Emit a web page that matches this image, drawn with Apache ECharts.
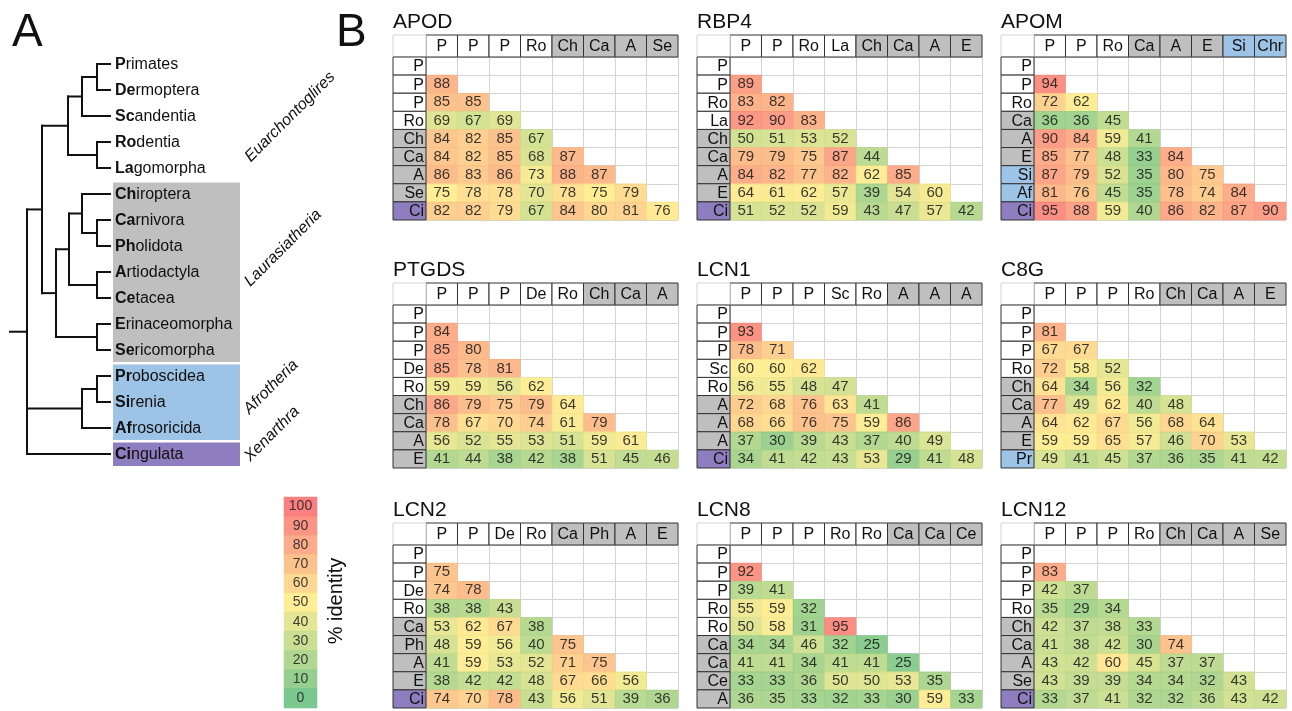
<!DOCTYPE html>
<html>
<head>
<meta charset="utf-8">
<script src="https://cdn.jsdelivr.net/npm/echarts@6.0.0/dist/echarts.min.js"></script>
<style>
	html, body { margin: 0; padding: 0; background: #fff; }
	#chart { width: 1292px; height: 711px; }
</style>
</head>
<body>
<div id="chart"></div>
<script>
var FONT = '"Liberation Sans", Arial, Helvetica, sans-serif';

// ---- panel A: tree ----
var leafNames = ['Primates', 'Dermoptera', 'Scandentia', 'Rodentia', 'Lagomorpha', 'Chiroptera', 'Carnivora',
	'Pholidota', 'Artiodactyla', 'Cetacea', 'Erinaceomorpha', 'Sericomorpha', 'Proboscidea', 'Sirenia',
	'Afrosoricida', 'Cingulata'];
var leafBold = ['P', 'De', 'Sc', 'Ro', 'La', 'Ch', 'Ca', 'Ph', 'A', 'Ce', 'E', 'Se', 'Pr', 'Si', 'Af', 'Ci'];
var leafGroup = ['E', 'E', 'E', 'E', 'E', 'L', 'L', 'L', 'L', 'L', 'L', 'L', 'F', 'F', 'F', 'X'];
// node = [x, child, child, ...]; a number child is a leaf index
var tree = [27,
	[42,
		[68, [82, [97, 0, 1], 2], [97, 3, 4]],
		[56, [69, [82, 5, [97, 6, 7]], [97, 8, 9]], [97, 10, 11]]
	],
	[82, [97, 12, 13], 14],
	15
];
var cladeNames = ['Euarchontoglires', 'Laurasiatheria', 'Afrotheria', 'Xenarthra'];

// ---- panel B: identity tables ----
var genes = ['APOD', 'RBP4', 'APOM', 'PTGDS', 'LCN1', 'C8G', 'LCN2', 'LCN8', 'LCN12'];

var APOD_cols = ['P', 'P', 'P', 'Ro', 'Ch', 'Ca', 'A', 'Se'];
var APOD_rows = ['P', 'P', 'P', 'Ro', 'Ch', 'Ca', 'A', 'Se', 'Ci'];
var APOD_vals = [[88], [85, 85], [69, 67, 69], [84, 82, 85, 67], [84, 82, 85, 68, 87],
	[86, 83, 86, 73, 88, 87], [75, 78, 78, 70, 78, 75, 79], [82, 82, 79, 67, 84, 80, 81, 76]];

var RBP4_cols = ['P', 'P', 'Ro', 'La', 'Ch', 'Ca', 'A', 'E'];
var RBP4_rows = ['P', 'P', 'Ro', 'La', 'Ch', 'Ca', 'A', 'E', 'Ci'];
var RBP4_vals = [[89], [83, 82], [92, 90, 83], [50, 51, 53, 52], [79, 79, 75, 87, 44],
	[84, 82, 77, 82, 62, 85], [64, 61, 62, 57, 39, 54, 60], [51, 52, 52, 59, 43, 47, 57, 42]];

var APOM_cols = ['P', 'P', 'Ro', 'Ca', 'A', 'E', 'Si', 'Chr'];
var APOM_rows = ['P', 'P', 'Ro', 'Ca', 'A', 'E', 'Si', 'Af', 'Ci'];
var APOM_vals = [[94], [72, 62], [36, 36, 45], [90, 84, 59, 41], [85, 77, 48, 33, 84],
	[87, 79, 52, 35, 80, 75], [81, 76, 45, 35, 78, 74, 84], [95, 88, 59, 40, 86, 82, 87, 90]];

var PTGDS_cols = ['P', 'P', 'P', 'De', 'Ro', 'Ch', 'Ca', 'A'];
var PTGDS_rows = ['P', 'P', 'P', 'De', 'Ro', 'Ch', 'Ca', 'A', 'E'];
var PTGDS_vals = [[84], [85, 80], [85, 78, 81], [59, 59, 56, 62], [86, 79, 75, 79, 64],
	[78, 67, 70, 74, 61, 79], [56, 52, 55, 53, 51, 59, 61], [41, 44, 38, 42, 38, 51, 45, 46]];

var LCN1_cols = ['P', 'P', 'P', 'Sc', 'Ro', 'A', 'A', 'A'];
var LCN1_rows = ['P', 'P', 'P', 'Sc', 'Ro', 'A', 'A', 'A', 'Ci'];
var LCN1_vals = [[93], [78, 71], [60, 60, 62], [56, 55, 48, 47], [72, 68, 76, 63, 41],
	[68, 66, 76, 75, 59, 86], [37, 30, 39, 43, 37, 40, 49], [34, 41, 42, 43, 53, 29, 41, 48]];

var C8G_cols = ['P', 'P', 'P', 'Ro', 'Ch', 'Ca', 'A', 'E'];
var C8G_rows = ['P', 'P', 'P', 'Ro', 'Ch', 'Ca', 'A', 'E', 'Pr'];
var C8G_vals = [[81], [67, 67], [72, 58, 52], [64, 34, 56, 32], [77, 49, 62, 40, 48],
	[64, 62, 67, 56, 68, 64], [59, 59, 65, 57, 46, 70, 53], [49, 41, 45, 37, 36, 35, 41, 42]];

var LCN2_cols = ['P', 'P', 'De', 'Ro', 'Ca', 'Ph', 'A', 'E'];
var LCN2_rows = ['P', 'P', 'De', 'Ro', 'Ca', 'Ph', 'A', 'E', 'Ci'];
var LCN2_vals = [[75], [74, 78], [38, 38, 43], [53, 62, 67, 38], [48, 59, 56, 40, 75],
	[41, 59, 53, 52, 71, 75], [38, 42, 42, 48, 67, 66, 56], [74, 70, 78, 43, 56, 51, 39, 36]];

var LCN8_cols = ['P', 'P', 'P', 'Ro', 'Ro', 'Ca', 'Ca', 'Ce'];
var LCN8_rows = ['P', 'P', 'P', 'Ro', 'Ro', 'Ca', 'Ca', 'Ce', 'A'];
var LCN8_vals = [[92], [39, 41], [55, 59, 32], [50, 58, 31, 95], [34, 34, 46, 32, 25],
	[41, 41, 34, 41, 41, 25], [33, 33, 36, 50, 50, 53, 35], [36, 35, 33, 32, 33, 30, 59, 33]];

var LCN12_cols = ['P', 'P', 'P', 'Ro', 'Ch', 'Ca', 'A', 'Se'];
var LCN12_rows = ['P', 'P', 'P', 'Ro', 'Ch', 'Ca', 'A', 'Se', 'Ci'];
var LCN12_vals = [[83], [42, 37], [35, 29, 34], [42, 37, 38, 33], [41, 38, 42, 30, 74],
	[43, 42, 60, 45, 37, 37], [43, 39, 39, 34, 34, 32, 43], [33, 37, 41, 32, 32, 36, 43, 42]];

var legendTicks = [100, 90, 80, 70, 60, 50, 40, 30, 20, 10, 0];

var tableCols = [APOD_cols, RBP4_cols, APOM_cols, PTGDS_cols, LCN1_cols, C8G_cols, LCN2_cols, LCN8_cols, LCN12_cols];
var tableRows = [APOD_rows, RBP4_rows, APOM_rows, PTGDS_rows, LCN1_rows, C8G_rows, LCN2_rows, LCN8_rows, LCN12_rows];
var tableVals = [APOD_vals, RBP4_vals, APOM_vals, PTGDS_vals, LCN1_vals, C8G_vals, LCN2_vals, LCN8_vals, LCN12_vals];

// colour scale (per table lower end, green -> yellow -> red)
var scaleLo = [50, 25, 25, 25, 20, 20, 20, 20, 15];
var scaleColors = ['#63BE7B', '#FFEB84', '#F8696B'];

var taxonGroup = {P: 'E', De: 'E', Sc: 'E', Ro: 'E', La: 'E', Ch: 'L', Ca: 'L', Ph: 'L', A: 'L', Ce: 'L',
	E: 'L', Se: 'L', Si: 'F', Chr: 'F', Af: 'F', Pr: 'F', Ci: 'X'};
var groupFill = {E: '#ffffff', L: '#BFBFBF', F: '#9DC3E6', X: '#8F7EBF'};

// layout
var tableX = [393, 697, 1001];
var tableY = [35, 283, 523];
var LABEL_W = 33, HEAD_H = 22, DATA_W = 252, DATA_H = 163;
var TIP_X = 110, BOX_X0 = 113, BOX_X1 = 240;

var myChart = echarts.init(document.getElementById('chart'));

var option = {
	animation: false,
	title: [],
	grid: [],
	xAxis: [],
	yAxis: [],
	visualMap: [],
	series: [],
	graphic: []
};

function hiddenCat(n, gi, inverse) {
	var d = [];
	for (var i = 0; i < n; i++) d.push(String(i));
	return {
		type: 'category', gridIndex: gi, data: d, inverse: !!inverse,
		axisLine: {show: false}, axisTick: {show: false}, axisLabel: {show: false},
		splitLine: {show: true, interval: 0, lineStyle: {color: '#D4D4D4', width: 1}}
	};
}

function headerItem(labels) {
	return function(params, api) {
		var i = api.value(0);
		var c = api.coord([i, 0]);
		var s = api.size([1, 1]);
		var x = c[0] - s[0] / 2, y = c[1] - s[1] / 2 - HEAD_H;
		return {
			type: 'group',
			children: [{
				type: 'rect',
				shape: {x: x, y: y, width: s[0], height: HEAD_H},
				style: {fill: groupFill[taxonGroup[labels[i]]], stroke: '#333', lineWidth: 1}
			}, {
				type: 'text',
				style: {text: labels[i], x: c[0], y: y + HEAD_H / 2 + 1, align: 'center', verticalAlign: 'middle',
					fill: '#111', font: '16px ' + FONT}
			}]
		};
	};
}

function rowItem(labels) {
	return function(params, api) {
		var r = api.value(1);
		var c = api.coord([0, r]);
		var s = api.size([1, 1]);
		var x = c[0] - s[0] / 2 - LABEL_W, y = c[1] - s[1] / 2;
		var kids = [{
			type: 'rect',
			shape: {x: x, y: y, width: LABEL_W, height: s[1]},
			style: {fill: groupFill[taxonGroup[labels[r]]], stroke: '#333', lineWidth: 1}
		}, {
			type: 'text',
			style: {text: labels[r], x: x + LABEL_W - 2, y: c[1] + 1, align: 'right', verticalAlign: 'middle',
				fill: '#111', font: '16px ' + FONT}
		}];
		if (r === 0) {
			kids.unshift({
				type: 'rect',
				shape: {x: x, y: y - HEAD_H, width: LABEL_W, height: HEAD_H},
				style: {fill: '#fff', stroke: '#D4D4D4', lineWidth: 1}
			});
		}
		return {type: 'group', children: kids};
	};
}

// tables
for (var t = 0; t < genes.length; t++) {
	var gx = tableX[t % 3] + LABEL_W, gy = tableY[Math.floor(t / 3)] + HEAD_H;
	option.grid.push({left: gx, top: gy, width: DATA_W, height: DATA_H});
	option.xAxis.push(hiddenCat(8, t, false));
	option.yAxis.push(hiddenCat(9, t, true));
	option.title.push({
		text: genes[t], left: tableX[t % 3], top: tableY[Math.floor(t / 3)] - 23, padding: 0,
		textStyle: {fontSize: 21, fontWeight: 'normal', color: '#111', fontFamily: FONT}
	});

	var cells = [];
	tableVals[t].forEach(function(row, ri) {
		row.forEach(function(v, ci) {
			cells.push([ci, ri + 1, v]);
		});
	});
	var si = option.series.length;
	option.series.push({
		type: 'heatmap', xAxisIndex: t, yAxisIndex: t, data: cells,
		itemStyle: {opacity: 0.85},
		label: {show: true, fontSize: 15, color: '#1a1a1a', fontFamily: FONT},
		emphasis: {disabled: true}
	});
	option.visualMap.push({
		type: 'continuous', show: false, seriesIndex: si, dimension: 2,
		min: scaleLo[t], max: 100, inRange: {color: scaleColors}
	});
	var cols = tableCols[t], rows = tableRows[t];
	option.series.push({
		type: 'custom', xAxisIndex: t, yAxisIndex: t, clip: false, silent: true, z: 5,
		data: cols.map(function(l, i) { return [i, 0]; }),
		renderItem: headerItem(cols)
	});
	option.series.push({
		type: 'custom', xAxisIndex: t, yAxisIndex: t, clip: false, silent: true, z: 5,
		data: rows.map(function(l, i) { return [0, i]; }),
		renderItem: rowItem(rows)
	});
}

// tree grid (index 9)
option.grid.push({left: 0, top: 51, width: 300, height: 416});
option.xAxis.push({type: 'value', gridIndex: 9, min: 0, max: 300, show: false});
option.yAxis.push({type: 'value', gridIndex: 9, min: -0.5, max: 15.5, inverse: true, show: false});

var segs = [];
function walk(node) {
	if (typeof node === 'number') return {x: TIP_X, y: node};
	var x = node[0], kids = [];
	for (var k = 1; k < node.length; k++) kids.push(walk(node[k]));
	var ys = kids.map(function(c) { return c.y; });
	var y0 = Math.min.apply(null, ys), y1 = Math.max.apply(null, ys);
	segs.push([x, y0, x, y1]);
	kids.forEach(function(c) { segs.push([x, c.y, c.x, c.y]); });
	return {x: x, y: (y0 + y1) / 2};
}
var rootPos = walk(tree);
segs.push([10, rootPos.y, rootPos.x, rootPos.y]);

// label boxes by group
var boxes = [];
leafGroup.forEach(function(g, i) {
	if (g === 'E') return;
	var last = boxes[boxes.length - 1];
	if (last && last[2] === g) last[1] = i;
	else boxes.push([i, i, g]);
});

option.series.push({
	type: 'custom', xAxisIndex: 9, yAxisIndex: 9, silent: true, clip: false,
	data: boxes.map(function(b) { return [b[0], b[1]]; }),
	renderItem: function(params, api) {
		var a = api.coord([BOX_X0, api.value(0) - 0.5]);
		var b = api.coord([BOX_X1, api.value(1) + 0.5]);
		return {
			type: 'rect',
			shape: {x: a[0], y: a[1] + 1.5, width: b[0] - a[0], height: b[1] - a[1] - 2.5},
			style: {fill: groupFill[boxes[params.dataIndex][2]]}
		};
	}
});
option.series.push({
	type: 'custom', xAxisIndex: 9, yAxisIndex: 9, silent: true, clip: false, z: 3,
	data: segs,
	renderItem: function(params, api) {
		var a = api.coord([api.value(0), api.value(1)]);
		var b = api.coord([api.value(2), api.value(3)]);
		return {
			type: 'line',
			shape: {x1: a[0], y1: a[1], x2: b[0], y2: b[1]},
			style: {stroke: '#111', lineWidth: 2, lineCap: 'square'}
		};
	}
});
option.series.push({
	type: 'custom', xAxisIndex: 9, yAxisIndex: 9, silent: true, clip: false, z: 4,
	data: leafNames.map(function(n, i) { return [TIP_X, i]; }),
	renderItem: function(params, api) {
		var p = api.coord([api.value(0), api.value(1)]);
		var i = params.dataIndex;
		var name = leafNames[i], bold = leafBold[i];
		return {
			type: 'text',
			style: {
				text: '{b|' + bold + '}{n|' + name.slice(bold.length) + '}',
				x: p[0] + 5, y: p[1] + 1, verticalAlign: 'middle', align: 'left',
				rich: {
					b: {fontWeight: 'bold', fontSize: 16, fontFamily: FONT, fill: '#111', color: '#111'},
					n: {fontSize: 16, fontFamily: FONT, fill: '#111', color: '#111'}
				}
			}
		};
	}
});

// legend grid (index 10)
option.grid.push({left: 284, top: 497, width: 33, height: 211});
option.xAxis.push({type: 'category', gridIndex: 10, data: ['0'], show: false});
option.yAxis.push({type: 'category', gridIndex: 10, data: legendTicks.map(String), inverse: true, show: false});
var lsi = option.series.length;
option.series.push({
	type: 'heatmap', xAxisIndex: 10, yAxisIndex: 10,
	data: legendTicks.map(function(v, i) { return [0, i, v]; }),
	itemStyle: {opacity: 0.85},
	label: {show: true, fontSize: 14, color: '#222', fontFamily: FONT},
	emphasis: {disabled: true}
});
option.visualMap.push({
	type: 'continuous', show: false, seriesIndex: lsi, dimension: 2,
	min: 0, max: 100, inRange: {color: scaleColors}
});

// panel letters, clade names, legend title
var cladePos = [[290, 117, 16], [283, 248, 16], [271, 387, 16], [272, 434, 16]];
option.graphic.push({type: 'text', left: 12, top: 10, style: {text: 'A', font: '46px ' + FONT, fill: '#111'}});
option.graphic.push({type: 'text', left: 336, top: 10, style: {text: 'B', font: '46px ' + FONT, fill: '#111'}});
cladeNames.forEach(function(n, i) {
	option.graphic.push({
		type: 'text', x: cladePos[i][0], y: cladePos[i][1], rotation: Math.PI / 4,
		style: {text: n, font: 'italic ' + cladePos[i][2] + 'px ' + FONT, fill: '#111',
			align: 'center', verticalAlign: 'middle'}
	});
});
option.graphic.push({
	type: 'text', x: 336, y: 601, rotation: Math.PI / 2,
	style: {text: '% identity', font: '20px ' + FONT, fill: '#111', align: 'center', verticalAlign: 'middle'}
});

myChart.setOption(option);
window.addEventListener('resize', function() {
	myChart.resize();
});
</script>
</body>
</html>
